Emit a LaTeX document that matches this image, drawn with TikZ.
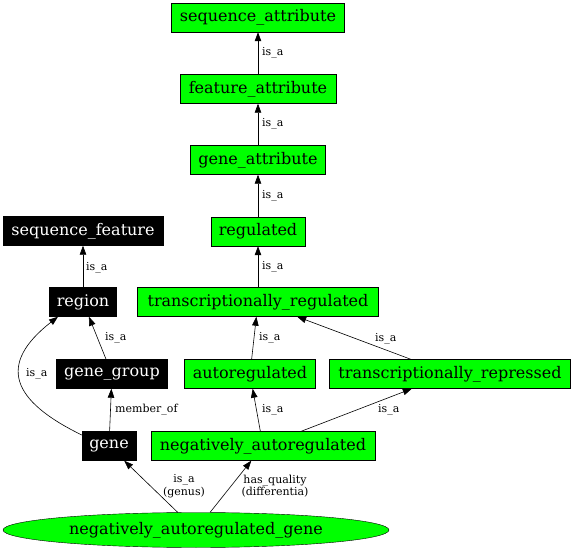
\documentclass[tikz,border=0pt]{standalone}
\usepackage{fontspec}
\setmainfont{DejaVu Serif}
\usetikzlibrary{arrows.meta,shapes.geometric}
\definecolor{termgreen}{RGB}{0,255,0}

\begin{document}
\begin{tikzpicture}[x=1pt,y=1pt,
term/.style={draw=black, fill=termgreen, inner sep=0pt, minimum height=29pt, font=\fontsize{16}{18}\selectfont},
ext/.style={term, fill=black, text=white},
rel/.style={-{Triangle[length=9pt,width=6.5pt]}, line width=0.6pt},
lab/.style={font=\fontsize{11}{12.5}\selectfont, inner sep=0pt, anchor=west, align=center}]
	\useasboundingbox (0,0) rectangle (576,552);
	\node[term, minimum width=173pt] at (258,534.5) (sa) {sequence\_attribute};
	\node[term, minimum width=156pt] at (258,463) (fa) {feature\_attribute};
	\node[term, minimum width=135pt] at (258,392) (ga) {gene\_attribute};
	\node[term, minimum width=94pt] at (258,320.5) (reg) {regulated};
	\node[term, minimum width=241pt] at (258,250) (treg) {transcriptionally\_regulated};
	\node[ext, minimum width=160pt] at (83,321) (sf) {sequence\_feature};
	\node[ext, minimum width=67pt] at (83,250) (rgn) {region};
	\node[ext, minimum width=111pt] at (112,178) (gg) {gene\_group};
	\node[term, minimum width=131pt] at (250,178) (areg) {autoregulated};
	\node[term, minimum width=241pt] at (450,178) (trep) {transcriptionally\_repressed};
	\node[ext, minimum width=54pt] at (109,106) (gene) {gene};
	\node[term, minimum width=224pt] at (263,106) (nareg) {negatively\_autoregulated};
	\node[term, ellipse, minimum width=386pt, minimum height=35pt] at (196,22) (nag) {negatively\_autoregulated\_gene};

	\draw[rel] (fa) -- (sa);
	\draw[rel] (ga) -- (fa);
	\draw[rel] (reg) -- (ga);
	\draw[rel] (treg) -- (reg);
	\draw[rel] (rgn) -- (sf);
	\draw[rel] (gg) -- (rgn);
	\draw[rel] ([yshift=11pt]gene.west) to[out=154,in=218,looseness=1.65] ([xshift=-25pt]rgn.south);
	\draw[rel] (gene) -- (gg);
	\draw[rel] (areg) -- (treg);
	\draw[rel] (trep) -- (treg);
	\draw[rel] (nareg) -- (areg);
	\draw[rel] (nareg) -- (trep);
	\draw[rel] (nag) -- (gene);
	\draw[rel] (nag) -- (nareg);

	\node[lab] at (262,499) (l1) {is\_a};
	\node[lab] at (262,428) (l2) {is\_a};
	\node[lab] at (262,356) (l3) {is\_a};
	\node[lab] at (262,285) (l4) {is\_a};
	\node[lab] at (86,284) (l5) {is\_a};
	\node[lab] at (105,214) (l6) {is\_a};
	\node[lab] at (26,178) (l7) {is\_a};
	\node[lab] at (115,142) (l8) {member\_of};
	\node[lab] at (259,214) (l9) {is\_a};
	\node[lab] at (375,213) (l10) {is\_a};
	\node[lab] at (262,142) (l11) {is\_a};
	\node[lab] at (378,142) (l12) {is\_a};
	\node[lab, anchor=center] at (184,66) (l13) {is\_a\\(genus)};
	\node[lab, anchor=center] at (275,66) (l14) {has\_quality\\(differentia)};
\end{tikzpicture}
\end{document}
